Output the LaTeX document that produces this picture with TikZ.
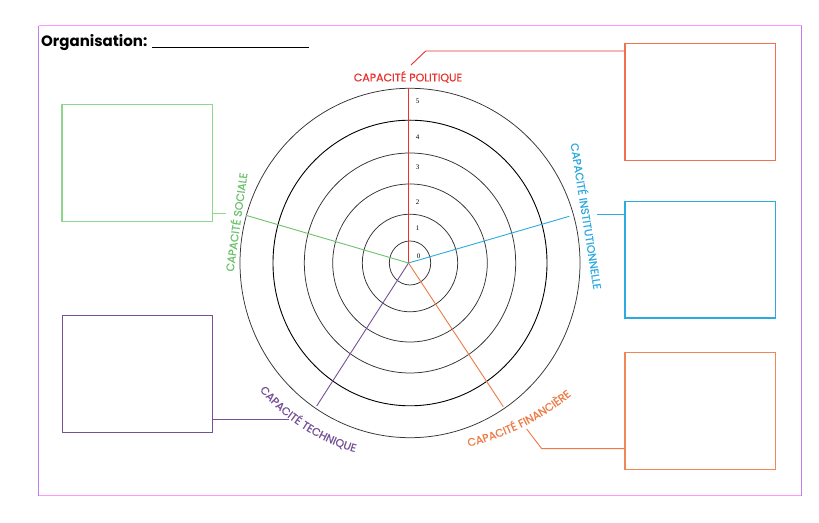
\documentclass[tikz,border=0pt]{standalone}
\usepackage{fontspec}
\usetikzlibrary{decorations.text}
\newfontfamily\labf{Poppins}[FakeBold=0.6]
\newfontfamily\titf{Poppins}
\newfontfamily\numf{Liberation Serif}
\definecolor{cred}{HTML}{E8322B}
\definecolor{credbox}{HTML}{F0704F}
\definecolor{cblue}{HTML}{2DAAE1}
\definecolor{cgreen}{HTML}{6CC26C}
\definecolor{cgreenbox}{HTML}{8ED58E}
\definecolor{cpurple}{HTML}{765099}
\definecolor{corange}{HTML}{EE7A45}
\definecolor{cpink}{HTML}{FF99FF}
\definecolor{cviolet}{HTML}{C07CF8}
\newcommand{\labsize}{\fontsize{11}{12}\selectfont}
\begin{document}
\begin{tikzpicture}[x=1pt,y=1pt,
  ring/.style={draw=black!80, line width=0.75pt},
  spoke/.style={line width=0.9pt},
  cbox/.style={draw, line width=1.1pt, minimum width=150.5pt, minimum height=116.5pt, inner sep=0pt},
  conn/.style={line width=0.9pt},
  lab/.style={font=\labf\labsize, inner sep=0pt},
  num/.style={font=\numf\fontsize{7}{8}\selectfont, inner sep=0pt}]
\useasboundingbox (0,0) rectangle (819,522);
\fill[white] (0,0) rectangle (819,522);
% frame
\draw[cpink, line width=1pt] (38.7,496.3) -- (801.7,496.3);
\draw[cpink, line width=1pt] (38.7,26.3) -- (801.7,26.3);
\draw[cviolet, line width=1pt] (38.7,26.3) -- (38.7,496.3);
\draw[cviolet, line width=1pt] (801.7,26.3) -- (801.7,496.3);
% title
\node[anchor=base west, inner sep=0pt, font=\titf\bfseries\fontsize{15}{16}\selectfont] (title) at (41,475) {Organisation:};
\draw[line width=1.6pt] (152,474.5) -- (309,474.5);
% rings
\coordinate (O) at (410,259);
\coordinate (H) at (408.5,259);
\draw[ring] (O) ellipse[x radius=20.7, y radius=22];
\draw[ring] (O) ellipse[x radius=47.7, y radius=48.8];
\draw[ring] (O) ellipse[x radius=77.3, y radius=79];
\draw[ring] (O) ellipse[x radius=105.7, y radius=110];
\draw[ring, draw=black, line width=0.9pt] (O) ellipse[x radius=137, y radius=142.8];
\draw[ring] (O) ellipse[x radius=170, y radius=174.7];
% spokes
\coordinate (pTop) at (408.5,434);
\coordinate (pGreen) at (246,306.7);
\coordinate (pBlue) at (569.3,305.7);
\coordinate (pPurple) at (316.7,116);
\coordinate (pOrange) at (503.3,115.3);
\draw[spoke, cred] (H) -- (pTop);
\draw[spoke, cgreen] (H) -- (pGreen);
\draw[spoke, cblue] (H) -- (pBlue);
\draw[spoke, cpurple] (H) -- (pPurple);
\draw[spoke, corange] (H) -- (pOrange);
% numbers
\node[num] (n5) at (417.5,421) {5};
\node[num] (n4) at (417.5,384.7) {4};
\node[num] (n3) at (417.5,355) {3};
\node[num] (n2) at (417.5,320.3) {2};
\node[num] (n1) at (417.5,294.3) {1};
\node[num] (n0) at (418.5,265.3) {0};
% boxes
\node[cbox, draw=credbox] (bpol) at (700.2,420) {};
\node[cbox, draw=cblue] (binst) at (700.2,262.2) {};
\node[cbox, draw=corange!90] (bfin) at (700.2,111) {};
\node[cbox, draw=cgreenbox] (bsoc) at (137.2,359) {};
\node[cbox, draw=cpurple] (btech) at (137.3,148) {};
% labels
\node[lab, text=cred] (lpol) at (408,445) {CAPACITÉ POLITIQUE};
\node[lab, text=cgreen, rotate=82] (lsoc) at (235.5,300) {CAPACITÉ SOCIALE};
\node[lab, text=cblue, rotate=-81] (linst) at (587,306) {CAPACITÉ INSTITUTIONNELLE};
\path[decorate, decoration={text along path, text align=center,
  text={|\labf\labsize\color{cpurple}|CAPACITÉ TECHNIQUE}}]
  (O) ++(207:197) arc[start angle=207, end angle=267, radius=197];
\coordinate (Ofin) at (406.8,327.9);
\path[decorate, decoration={text along path, text align=center,
  text={|\labf\labsize\color{corange}|CAPACITÉ FINANCIÈRE}}]
  (Ofin) ++(266.5:260) arc[start angle=266.5, end angle=326.5, radius=260];
% connectors
\coordinate (cPolA) at (411,457);
\coordinate (cPolB) at (425.7,471);
\draw[conn, cred] (cPolA) -- (cPolB) -- (cPolB -| bpol.west);
\coordinate (cSoc) at (226,309);
\draw[conn, cgreenbox] (cSoc -| bsoc.east) -- (cSoc);
\coordinate (cInst) at (597.3,307.3);
\draw[conn, cblue] (cInst) -- (cInst -| binst.west);
\coordinate (cTech) at (289.3,102.3);
\draw[conn, cpurple] (cTech -| btech.east) -- (cTech);
\coordinate (cFinA) at (526.7,93);
\coordinate (cFinB) at (541.7,73.3);
\draw[conn, corange] (cFinA) -- (cFinB) -- (cFinB -| bfin.west);
\end{tikzpicture}
\end{document}
